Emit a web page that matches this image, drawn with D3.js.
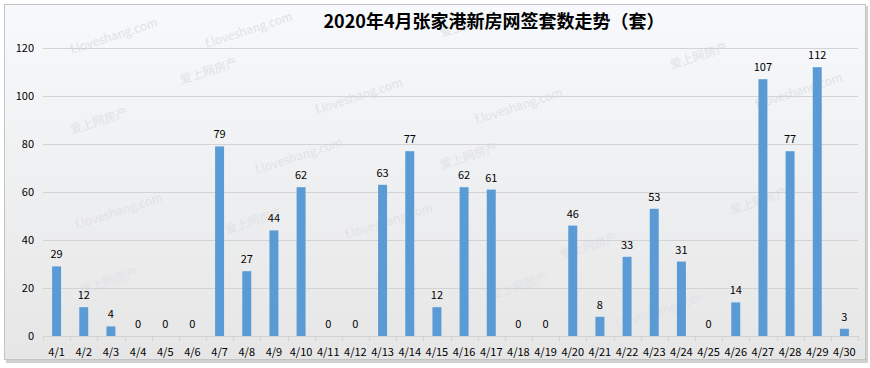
<!DOCTYPE html>
<html><head><meta charset="utf-8">
<script src="https://cdn.jsdelivr.net/npm/d3@7/dist/d3.min.js"></script>
<style>body{margin:0;background:#fff}svg{display:block}</style>
</head><body>
<svg id="c" width="870" height="368"></svg>
<script>
const categories = ["4/1","4/2","4/3","4/4","4/5","4/6","4/7","4/8","4/9","4/10","4/11","4/12","4/13","4/14","4/15","4/16","4/17","4/18","4/19","4/20","4/21","4/22","4/23","4/24","4/25","4/26","4/27","4/28","4/29","4/30"];
const values = [29,12,4,0,0,0,79,27,44,62,0,0,63,77,12,62,61,0,0,46,8,33,53,31,0,14,107,77,112,3];
const yTicks = [0,20,40,60,80,100,120];
const title = "2020年4月张家港新房网签套数走势（套）";

const svg = d3.select("#c");
const font = "'Noto Sans CJK SC','Microsoft YaHei',sans-serif";
const defs = svg.append("defs");
const g1 = defs.append("linearGradient").attr("id","bg").attr("x1",0).attr("y1",0).attr("x2",0).attr("y2",1);
g1.append("stop").attr("offset","0%").attr("stop-color","#f7f9fc");
g1.append("stop").attr("offset","100%").attr("stop-color","#e6e6e6");

svg.append("rect").attr("x",6).attr("y",6).attr("width",862).attr("height",357).attr("fill","#d0d0d0");
svg.append("rect").attr("x",4.5).attr("y",4.5).attr("width",861).attr("height",355)
  .attr("fill","url(#bg)").attr("stroke","#c4c4c4").attr("stroke-width",1);

const x = d3.scaleBand().domain(categories).range([43,858]).paddingInner(0.67).paddingOuter(0.335);
const xb = d3.scaleBand().domain(categories).range([43,858]);
const y = d3.scaleLinear().domain([0,120]).range([336,48]);

// watermarks
const wm = [["f.loveshang.com",115,40],["爱上网房产",210,75],["f.loveshang.com",360,100],["爱上网房产",470,28],["爱上网房产",100,125],["f.loveshang.com",120,215],["爱上网房产",255,225],["f.loveshang.com",300,160],["爱上网房产",470,160],["f.loveshang.com",520,110],["爱上网房产",700,60],["f.loveshang.com",800,95],["f.loveshang.com",660,315],["爱上网房产",760,205],["爱上网房产",110,285],["f.loveshang.com",390,225],["爱上网房产",590,250],["爱上网房产",520,290],["f.loveshang.com",250,34]];
svg.append("g").selectAll("text").data(wm).join("text")
  .attr("transform",d=>`translate(${d[1]},${d[2]}) rotate(-18)`)
  .attr("text-anchor","middle").attr("font-family",font).attr("font-size",12)
  .attr("fill","#e0e2e6").text(d=>d[0]);

// grid
svg.append("g").selectAll("line").data(yTicks.filter(t=>t>0)).join("line")
  .attr("x1",43).attr("x2",858).attr("y1",d=>Math.round(y(d))+0.5).attr("y2",d=>Math.round(y(d))+0.5)
  .attr("stroke","#d3d3d3");

// y labels
svg.append("g").selectAll("text").data(yTicks).join("text")
  .attr("x",34).attr("y",d=>y(d)+4).attr("text-anchor","end")
  .attr("font-family",font).attr("font-size",11).attr("fill","#000").text(d=>d);

// x axis
const xa = svg.append("g");
xa.append("line").attr("x1",43).attr("x2",858).attr("y1",336.5).attr("y2",336.5).attr("stroke","#d3d3d3");
xa.selectAll("line.t").data(categories.concat(["end"])).join("line").attr("class","t")
  .attr("x1",(d,i)=>Math.round(43+i*xb.bandwidth())+0.5).attr("x2",(d,i)=>Math.round(43+i*xb.bandwidth())+0.5)
  .attr("y1",336).attr("y2",341).attr("stroke","#d3d3d3");
xa.selectAll("text").data(categories).join("text")
  .attr("x",d=>xb(d)+xb.bandwidth()/2).attr("y",356).attr("text-anchor","middle")
  .attr("font-family",font).attr("font-size",11).attr("fill","#000").text(d=>d);

// bars
svg.append("g").selectAll("rect").data(values).join("rect")
  .attr("x",(d,i)=>x(categories[i])).attr("width",x.bandwidth())
  .attr("y",d=>y(d)).attr("height",d=>y(0)-y(d)).attr("fill","#5b9bd5");

// value labels
svg.append("g").selectAll("text").data(values).join("text")
  .attr("x",(d,i)=>xb(categories[i])+xb.bandwidth()/2).attr("y",d=>y(d)-8)
  .attr("text-anchor","middle").attr("font-family",font).attr("font-size",11).attr("fill","#000").text(d=>d);

// title
svg.append("text").attr("x",494).attr("y",28).attr("text-anchor","middle")
  .attr("font-family",font).attr("font-size",18).attr("font-weight","bold").attr("fill","#000").text(title);
</script>
</body></html>
